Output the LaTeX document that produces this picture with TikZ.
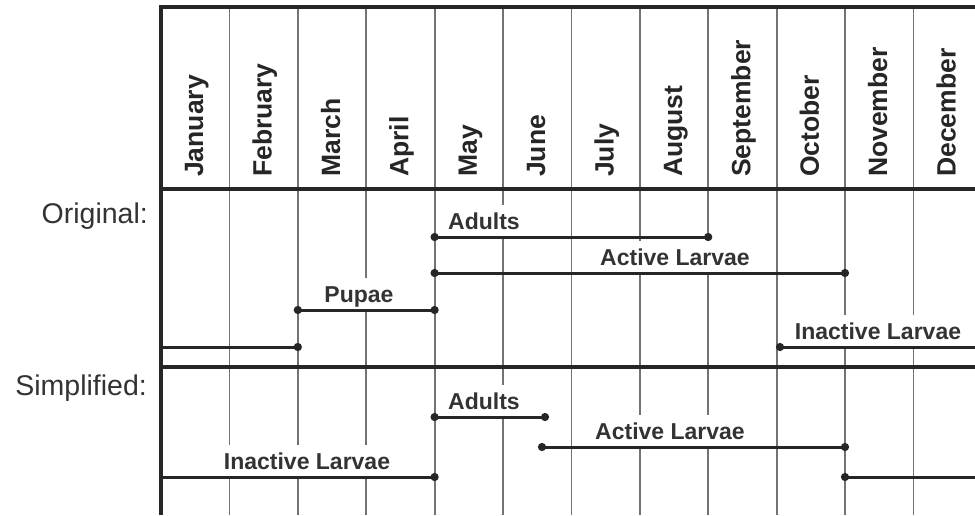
\documentclass[tikz,border=0pt]{standalone}
\usepackage{fontspec}
\setmainfont{Liberation Sans}
\usetikzlibrary{arrows.meta}
\begin{document}
\begin{tikzpicture}[x=1pt,y=-1pt,
  frame/.style={line width=3.4pt, draw=black!85, line join=miter},
  gridline/.style={line width=1.8pt, draw=black!55},
  month/.style={rotate=90, anchor=base west, inner sep=0pt, font=\bfseries\fontsize{26.5}{30}\selectfont, text=black!85},
  lbl/.style={anchor=base, fill=white, inner sep=0pt, inner xsep=3pt, text height=24pt, text depth=9pt, font=\bfseries\fontsize{23}{26}\selectfont, text=black!80},
  bar/.style={line width=3pt, draw=black!85},
  both/.style={{Circle[length=8pt]}-{Circle[length=8pt]}, shorten <=-4pt, shorten >=-4pt},
  rightdot/.style={-{Circle[length=8pt]}, shorten >=-4pt},
  leftdot/.style={{Circle[length=8pt]}-, shorten <=-4pt},
  rowname/.style={anchor=base east, inner sep=0pt, font=\fontsize{28.5}{32}\selectfont, text=black!80}
]
\useasboundingbox (0,0) rectangle (975,515);
\fill[white] (0,0) rectangle (975,515);

% grid lines
\foreach \i in {1,...,11}
  \draw[gridline] ({161+68.4*\i},7) -- ({161+68.4*\i},515);

% month headers
\foreach \m [count=\i] in {January,February,March,April,May,June,July,August,September,October,November,December}
  \node[month] (m\i) at ({161+68.4*(\i-0.5)+8},177) {\m};

% row names
\node[rowname] (orig) at (148,223) {Original:};
\node[rowname] (simp) at (147,395) {Simplified:};

% labels (white boxes hide grid lines)
\node[lbl] (oadl) at (484,229) {Adults};
\node[lbl] (oactl) at (675,265) {Active Larvae};
\node[lbl] (opupl) at (359,302) {Pupae};
\node[lbl] (oinal) at (878,339) {Inactive Larvae};
\node[lbl] (sadl) at (484,409) {Adults};
\node[lbl] (sactl) at (670,439) {Active Larvae};
\node[lbl] (sinal) at (307,469) {Inactive Larvae};

% bar end points
\coordinate (oad1) at (434.6,237);  \coordinate (oad2) at (708.2,237);
\coordinate (oac1) at (434.6,273);  \coordinate (oac2) at (845,273);
\coordinate (opu1) at (297.8,310);  \coordinate (opu2) at (434.6,310);
\coordinate (oin1) at (161,347);    \coordinate (oin2) at (297.8,347);
\coordinate (oin3) at (780,347);    \coordinate (oin4) at (975,347);
\coordinate (sad1) at (434.6,417);  \coordinate (sad2) at (545,417);
\coordinate (sac1) at (542,447);    \coordinate (sac2) at (845,447);
\coordinate (sin1) at (161,477);    \coordinate (sin2) at (434.6,477);
\coordinate (sin3) at (845,477);    \coordinate (sin4) at (975,477);

% bars
\draw[bar,both] (oad1) -- (oad2);
\draw[bar,both] (oac1) -- (oac2);
\draw[bar,both] (opu1) -- (opu2);
\draw[bar,rightdot] (oin1) -- (oin2);
\draw[bar,leftdot] (oin3) -- (oin4);
\draw[bar,both] (sad1) -- (sad2);
\draw[bar,both] (sac1) -- (sac2);
\draw[bar,rightdot] (sin1) -- (sin2);
\draw[bar,leftdot] (sin3) -- (sin4);

% frame lines
\draw[frame] (975,7) -- (161,7) -- (161,515);
\draw[frame] (161,189) -- (975,189);
\draw[frame] (161,367) -- (975,367);
\end{tikzpicture}
\end{document}
